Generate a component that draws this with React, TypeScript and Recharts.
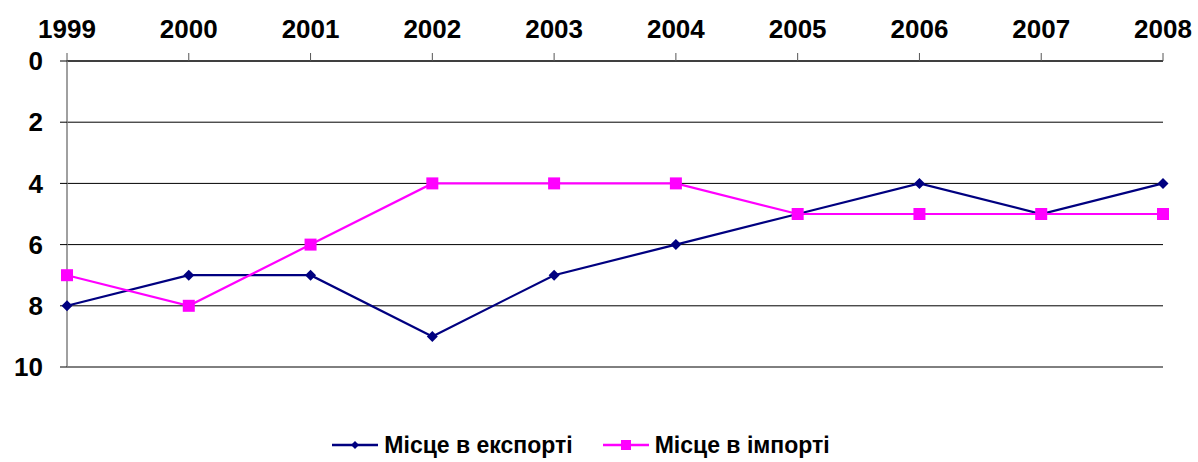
import { LineChart, Line, XAxis, YAxis, CartesianGrid } from "recharts";

const years = ["1999", "2000", "2001", "2002", "2003", "2004", "2005", "2006", "2007", "2008"];
const exportPlace = [8, 7, 7, 9, 7, 6, 5, 4, 5, 4];
const importPlace = [7, 8, 6, 4, 4, 4, 5, 5, 5, 5];
const yTicks = [0, 2, 4, 6, 8, 10];

const EXPORT_COLOR = "#000080";
const IMPORT_COLOR = "#FF00FF";
const FONT = "'Liberation Sans', Arial, sans-serif";

const data = years.map((year, i) => ({
  year,
  exp: exportPlace[i],
  imp: importPlace[i],
}));

const Diamond = ({ cx, cy }: any) => {
  if (cx == null || cy == null) return null;
  const r = 5.5;
  return (
    <path
      d={`M${cx},${cy - r} L${cx + r},${cy} L${cx},${cy + r} L${cx - r},${cy} Z`}
      fill={EXPORT_COLOR}
    />
  );
};

const Square = ({ cx, cy }: any) => {
  if (cx == null || cy == null) return null;
  const r = 6;
  return <rect x={cx - r} y={cy - r} width={r * 2} height={r * 2} fill={IMPORT_COLOR} />;
};

const legendItems = [
  { label: "Місце в експорті", color: EXPORT_COLOR, marker: "diamond" },
  { label: "Місце в імпорті", color: IMPORT_COLOR, marker: "square" },
];

const ChartLegend = () => (
  <div
    style={{
      position: "absolute",
      top: 432,
      left: 0,
      width: 1198,
      height: 26,
      display: "flex",
      justifyContent: "center",
      alignItems: "center",
      gap: 30,
      fontFamily: FONT,
      paddingRight: 36,
      boxSizing: "border-box",
      lineHeight: "26px",
    }}
  >
    {legendItems.map((item) => (
      <div key={item.label} style={{ display: "flex", alignItems: "center" }}>
        <svg width={46} height={14} style={{ marginRight: 6 }}>
          <line x1={0} y1={7} x2={46} y2={7} stroke={item.color} strokeWidth={2.5} />
          {item.marker === "diamond" ? (
            <path d="M23,3 L27,7 L23,11 L19,7 Z" fill={item.color} />
          ) : (
            <rect x={18} y={2} width={10} height={10} fill={item.color} />
          )}
        </svg>
        <span style={{ fontSize: 23, fontWeight: "bold", color: "#000" }}>{item.label}</span>
      </div>
    ))}
  </div>
);

export default function App() {
  return (
    <div style={{ position: "absolute", top: 0, left: 0, width: 1198, height: 462, background: "#fff" }}>
      <LineChart
        width={1198}
        height={462}
        data={data}
        margin={{ top: 0, right: 35, bottom: 95, left: 0 }}
      >
        <CartesianGrid vertical={false} stroke="#000" strokeOpacity={1} />
        <XAxis
          dataKey="year"
          orientation="top"
          height={61}
          tickSize={8}
          tickMargin={15}
          axisLine={{ stroke: "#000" }}
          tickLine={{ stroke: "#555" }}
          interval={0}
          tick={{ fill: "#000", fontSize: 26, fontWeight: "bold", fontFamily: FONT }}
        />
        <YAxis
          width={67}
          reversed
          domain={[0, 10]}
          ticks={yTicks}
          interval={0}
          tickSize={7}
          tickMargin={17}
          axisLine={{ stroke: "#808080", strokeWidth: 1.5 }}
          tickLine={{ stroke: "#000" }}
          tick={{ fill: "#000", fontSize: 26, fontWeight: "bold", fontFamily: FONT }}
        />
        <Line
          dataKey="exp"
          name="Місце в експорті"
          stroke={EXPORT_COLOR}
          strokeWidth={2.2}
          dot={<Diamond />}
          activeDot={false}
          isAnimationActive={false}
        />
        <Line
          dataKey="imp"
          name="Місце в імпорті"
          stroke={IMPORT_COLOR}
          strokeWidth={2.2}
          dot={<Square />}
          activeDot={false}
          isAnimationActive={false}
        />
      </LineChart>
      <ChartLegend />
    </div>
  );
}
